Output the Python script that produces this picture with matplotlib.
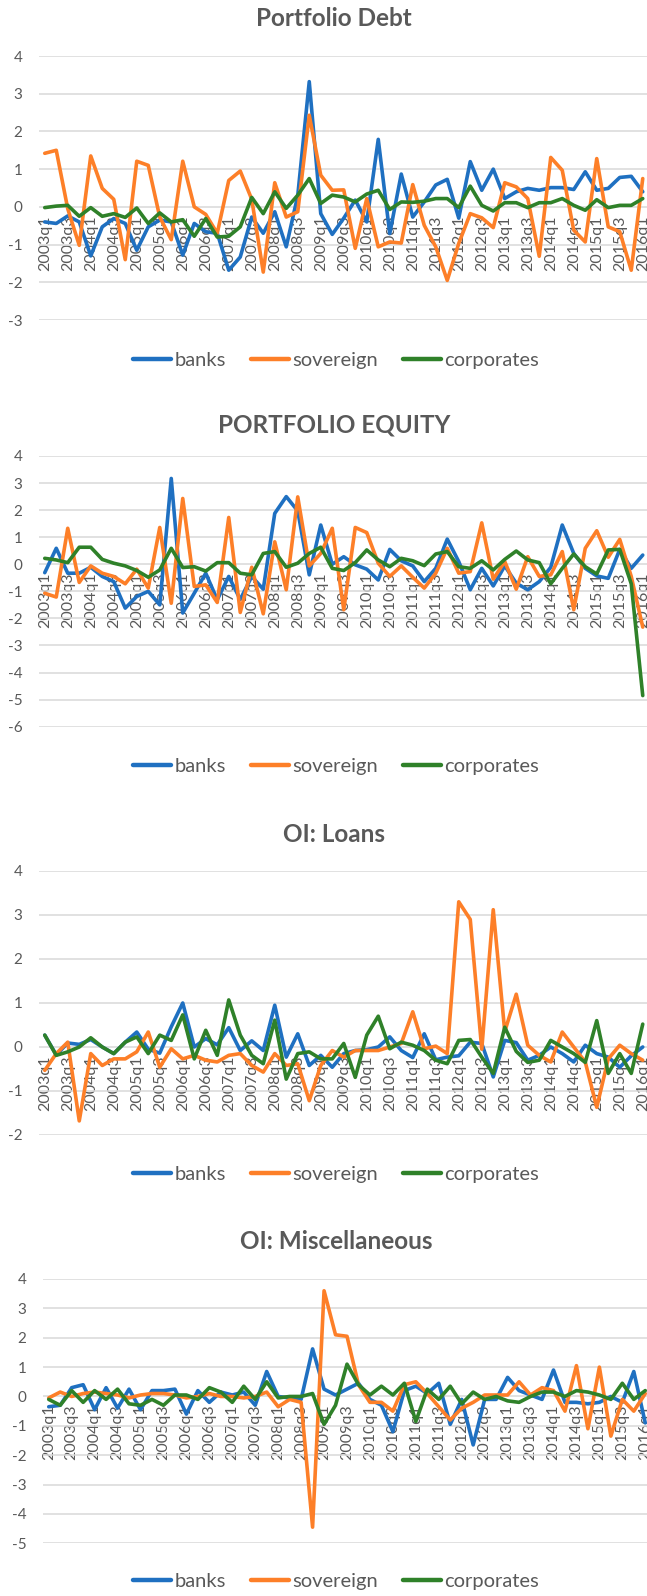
import matplotlib
matplotlib.use("Agg")
import matplotlib.pyplot as plt

plt.rcParams['font.family'] = ['Lato', 'DejaVu Sans']

# ---------------- data ----------------
quarters = [f"{y}q{q}" for y in range(2003, 2017) for q in range(1, 5)][:53]
series_names = ["banks", "sovereign", "corporates"]

titles = ["Portfolio Debt", "PORTFOLIO EQUITY", "OI: Loans", "OI: Miscellaneous"]

banks_pd = [-0.40, -0.44, -0.24, -0.40, -1.30, -0.53, -0.31, -0.44, -1.15, -0.53,
            -0.35, -0.40, -1.28, -0.44, -0.66, -0.70, -1.68, -1.33, -0.27, -0.70,
            -0.13, -1.06, 0.30, 3.32, -0.18, -0.73, -0.30, 0.18, -0.40, 1.79,
            -0.71, 0.87, -0.27, 0.13, 0.58, 0.73, -0.30, 1.20, 0.44, 1.00,
            0.22, 0.40, 0.49, 0.44, 0.51, 0.51, 0.46, 0.93, 0.44, 0.49,
            0.78, 0.81, 0.40]
sov_pd = [1.42, 1.50, -0.05, -1.02, 1.35, 0.49, 0.20, -1.40, 1.21, 1.10,
          -0.27, -0.87, 1.21, 0.00, -0.20, -0.70, 0.70, 0.95, 0.20, -1.73,
          0.64, -0.27, -0.13, 2.43, 0.84, 0.44, 0.45, -1.10, 0.22, -1.06,
          -0.93, -0.96, 0.59, -0.49, -1.06, -1.95, -0.97, -0.18, -0.29, -0.55,
          0.64, 0.53, 0.22, -1.31, 1.31, 0.97, -0.62, -0.93, 1.28, -0.53,
          -0.66, -1.68, 0.75]
corp_pd = [-0.02, 0.02, 0.04, -0.25, -0.02, -0.25, -0.18, -0.28, -0.03, -0.44,
           -0.16, -0.40, -0.34, -0.78, -0.31, -0.80, -0.78, -0.53, 0.25, -0.18,
           0.40, -0.04, 0.31, 0.75, 0.09, 0.31, 0.26, 0.13, 0.34, 0.44,
           -0.07, 0.13, 0.12, 0.15, 0.22, 0.22, -0.02, 0.55, 0.04, -0.11,
           0.11, 0.11, -0.02, 0.11, 0.11, 0.22, 0.04, -0.09, 0.19, -0.02,
           0.04, 0.04, 0.22]

banks_pe = [-0.31, 0.59, -0.33, -0.33, -0.11, -0.45, -0.64, -1.62, -1.19, -1.00,
            -1.50, 3.17, -1.80, -1.07, -0.33, -1.31, -0.45, -1.30, -0.45, -0.92,
            1.88, 2.50, 1.97, -0.39, 1.45, 0.00, 0.28, -0.02, -0.18, -0.58,
            0.55, 0.13, -0.06, -0.64, -0.15, 0.93, 0.10, -0.94, -0.15, -0.80,
            -0.06, -0.70, -0.94, -0.64, -0.11, 1.45, 0.40, -0.15, -0.43, -0.52,
            0.55, -0.15, 0.34]
sov_pe = [-1.07, -1.21, 1.33, -0.67, -0.06, -0.33, -0.45, -0.72, -0.18, -0.88,
          1.36, -1.44, 2.43, -0.82, -0.76, -1.41, 1.73, -1.78, -0.11, -1.83,
          0.83, -0.94, 2.49, -0.06, 0.40, 1.33, -1.68, 1.36, 1.17, 0.04,
          -0.45, -0.06, -0.48, -0.88, -0.33, 0.59, -0.33, -0.27, 1.53, -0.55,
          0.10, -0.92, 0.28, -0.45, -0.39, 0.47, -1.68, 0.59, 1.24, 0.26,
          0.92, -0.45, -2.32]
corp_pe = [0.22, 0.16, 0.06, 0.63, 0.63, 0.18, 0.04, -0.06, -0.23, -0.48,
           -0.21, 0.59, -0.12, -0.09, -0.25, 0.06, 0.06, -0.33, -0.39, 0.40,
           0.47, -0.11, 0.04, 0.40, 0.63, -0.15, -0.23, 0.06, 0.53, 0.16,
           -0.09, 0.22, 0.13, -0.05, 0.38, 0.47, -0.09, -0.15, 0.13, -0.21,
           0.18, 0.49, 0.16, 0.06, -0.72, -0.15, 0.38, -0.09, -0.36, 0.53,
           0.55, -0.72, -4.85]

banks_ln = [0.27, -0.18, 0.09, 0.06, 0.17, 0.00, -0.15, 0.11, 0.34, -0.05,
            -0.14, 0.46, 1.00, 0.00, 0.19, 0.05, 0.44, -0.08, 0.14, -0.08,
            0.95, -0.23, 0.30, -0.42, -0.19, -0.46, -0.15, -0.08, -0.06, 0.00,
            0.23, -0.08, -0.24, 0.30, -0.29, -0.23, -0.20, 0.11, 0.08, -0.68,
            0.15, 0.10, -0.30, -0.19, 0.00, -0.15, -0.34, 0.04, -0.15, -0.23,
            -0.46, -0.20, 0.00]
sov_ln = [-0.53, -0.15, 0.11, -1.68, -0.15, -0.42, -0.27, -0.27, -0.11, 0.34,
          -0.46, -0.04, -0.27, -0.19, -0.30, -0.34, -0.19, -0.15, -0.42, -0.57,
          -0.15, -0.42, -0.38, -1.22, -0.42, -0.08, -0.23, -0.08, -0.08, -0.08,
          0.00, 0.08, 0.80, -0.04, 0.02, -0.15, 3.30, 2.90, -0.05, 3.12,
          0.35, 1.20, 0.04, -0.19, -0.34, 0.34, 0.00, -0.34, -1.37, -0.27,
          0.04, -0.15, -0.30]
corp_ln = [0.27, -0.19, -0.11, 0.00, 0.21, 0.00, -0.15, 0.11, 0.23, -0.15,
           0.27, 0.15, 0.73, -0.27, 0.38, -0.19, 1.07, 0.27, -0.19, -0.38,
           0.61, -0.73, -0.15, -0.11, -0.27, -0.27, 0.08, -0.69, 0.27, 0.70,
           -0.04, 0.11, 0.04, -0.08, -0.30, -0.38, 0.15, 0.17, -0.23, -0.60,
           0.45, -0.10, -0.35, -0.30, 0.15, 0.00, -0.15, -0.35, 0.60, -0.60,
           -0.15, -0.60, 0.52]

banks_mi = [-0.35, -0.30, 0.30, 0.40, -0.45, 0.30, -0.40, 0.25, -0.45, 0.20,
            0.20, 0.25, -0.60, 0.20, -0.20, 0.15, 0.05, 0.15, -0.30, 0.85,
            0.00, -0.05, -0.10, 1.62, 0.25, 0.05, 0.25, 0.45, -0.10, -0.30,
            -1.20, 0.20, 0.35, 0.10, 0.45, -0.95, -0.10, -1.65, -0.10, -0.10,
            0.65, 0.20, 0.05, -0.10, 0.90, -0.20, -0.20, -0.25, -0.20, 0.00,
            -0.20, 0.85, -0.90]
sov_mi = [-0.05, 0.15, 0.00, 0.10, 0.15, 0.10, 0.05, -0.05, 0.05, 0.10,
          0.10, 0.05, -0.05, 0.00, 0.10, 0.00, 0.00, -0.05, 0.00, 0.15,
          -0.35, -0.10, -0.20, -4.45, 3.60, 2.10, 2.05, 0.40, -0.20, -0.20,
          -0.50, 0.40, 0.50, 0.10, -0.35, -0.80, -0.40, -0.20, 0.05, 0.05,
          0.05, 0.50, 0.05, 0.30, 0.20, -0.50, 1.05, -1.10, 1.00, -1.35,
          -0.10, -0.50, 0.10]
corp_mi = [-0.10, -0.30, 0.20, -0.20, 0.20, -0.10, 0.25, -0.25, -0.30, -0.10,
           -0.30, 0.05, 0.05, -0.10, 0.30, 0.15, -0.20, 0.35, -0.10, 0.50,
           -0.05, 0.00, 0.00, 0.10, -0.95, -0.30, 1.10, 0.40, 0.05, 0.35,
           0.05, 0.45, -0.85, 0.25, -0.10, 0.35, -0.25, 0.15, -0.10, 0.00,
           -0.15, -0.20, 0.00, 0.15, 0.15, 0.00, 0.20, 0.15, 0.05, -0.10,
           0.45, -0.10, 0.20]

panels = [
    (titles[0], [banks_pd, sov_pd, corp_pd], (-3, 4)),
    (titles[1], [banks_pe, sov_pe, corp_pe], (-6, 4)),
    (titles[2], [banks_ln, sov_ln, corp_ln], (-2, 4)),
    (titles[3], [banks_mi, sov_mi, corp_mi], (-5, 4)),
]

# ---------------- layout (pixels, y from top) ----------------
W, H = 647, 1596
# (left, right, y_top_gridline, y_bottom_gridline, title_y, legend_y, title_x)
layout = [
    (39.0, 648.5, 56.0, 320.0, 18.0, 360.0, 334),
    (39.0, 648.5, 456.0, 726.7, 425.5, 766.7, 334),
    (39.0, 648.5, 871.0, 1135.0, 834.0, 1174.0, 334),
    (43.0, 651.0, 1279.0, 1543.3, 1241.7, 1581.7, 336),
]

colors = ["#1f70c1", "#fd7f28", "#2f8129"]
text_color = "#595959"
grid_color = "#d9d9d9"

fig = plt.figure(figsize=(W / 100, H / 100), dpi=100)

for (title, series, (ymin, ymax)), (l, r, yt, yb, ty, ly, tx) in zip(panels, layout):
    ax = fig.add_axes([l / W, 1 - yb / H, (r - l) / W, (yb - yt) / H])
    x = list(range(len(quarters)))
    lines = []
    for vals, name, c in zip(series, series_names, colors):
        ln, = ax.plot(x, vals, color=c, lw=2.6, label=name,
                      solid_joinstyle="round", solid_capstyle="round", clip_on=False)
        lines.append(ln)
    ax.set_xlim(-0.5, len(quarters) - 0.5)
    ax.set_ylim(ymin, ymax)
    ax.set_yticks(range(ymin, ymax + 1))
    ax.set_yticklabels([str(v) for v in range(ymin, ymax + 1)])
    ax.grid(axis="y", color=grid_color, lw=1.1)
    ax.set_axisbelow(True)
    for s in ax.spines.values():
        s.set_visible(False)
    ax.spines["bottom"].set_position(("data", 0))
    ax.set_xticks(x[::2])
    ax.set_xticklabels(quarters[::2], rotation=90, fontsize=11.5, color=text_color)
    ax.tick_params(axis="x", length=0, pad=6)
    ax.tick_params(axis="y", length=0, pad=12, labelsize=11, labelcolor=text_color)
    fig.text(tx / W, 1 - ty / H, title, ha="center", va="center",
             fontsize=17.5, fontweight="bold", color=text_color)
    leg = ax.legend(handles=lines, loc="center", ncol=3, frameon=False,
                    bbox_to_anchor=(336 / W, 1 - ly / H), bbox_transform=fig.transFigure,
                    fontsize=14.5, handlelength=1.9, handletextpad=0.15, columnspacing=1.25,
                    labelcolor=text_color)
    for h in leg.get_lines():
        h.set_linewidth(3.2)

fig.savefig("out.png", dpi=100)
